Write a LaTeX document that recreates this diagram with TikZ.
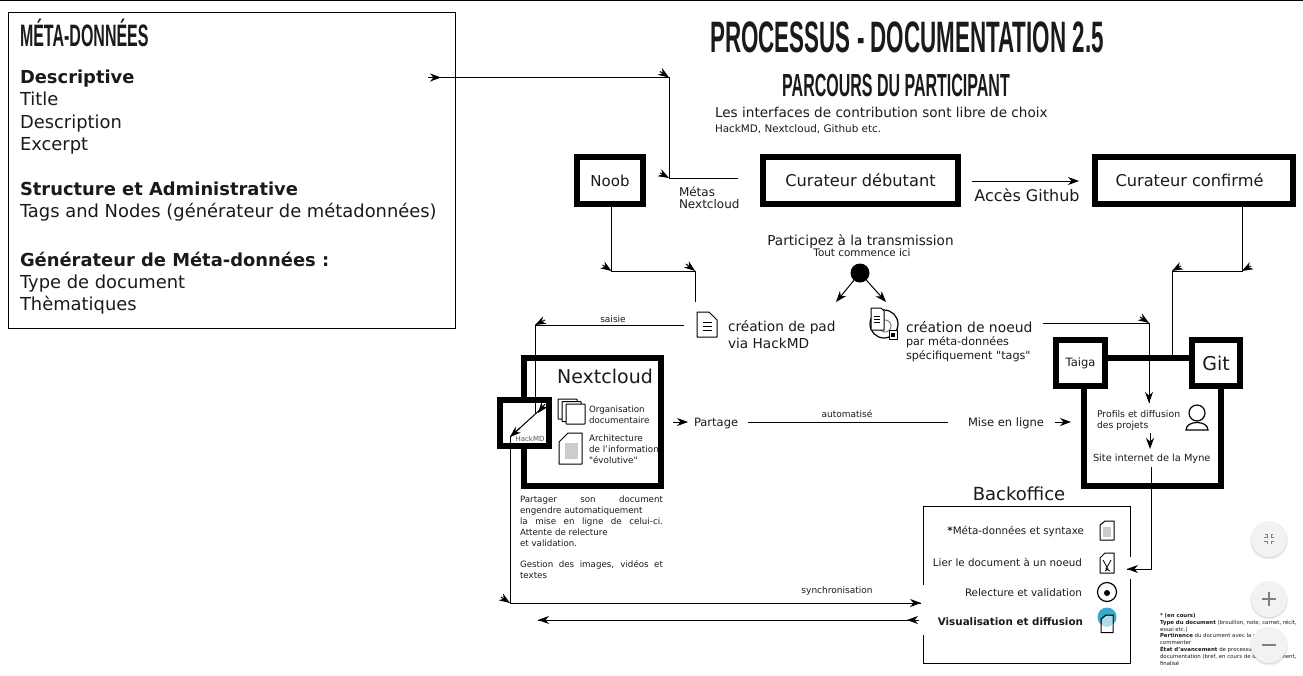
\documentclass[tikz,border=0pt]{standalone}
\usepackage{fontspec}
\setmainfont{DejaVu Sans}
\newfontfamily\titlefont{Liberation Sans}
\newfontfamily\plainquote{DejaVu Sans}
\usetikzlibrary{arrows.meta,calc}
\definecolor{ink}{HTML}{1A1A1A}
\definecolor{btn}{HTML}{F2F2F2}
\definecolor{teal}{HTML}{3AA9C9}
\newcommand{\cond}[2][0.62]{\scalebox{#1}[1]{\titlefont\bfseries #2}}
\tikzset{
  x=1pt,y=-1pt,
  every node/.style={text=ink,inner sep=0pt,outer sep=0pt},
  tip/.style={-{Stealth[length=11pt,width=8pt,inset=3.5pt]}},
  conn/.style={draw=black,line width=1pt},
  thickbox/.style={draw=black,line width=6pt,fill=white,minimum width=0pt},
  fs/.style={font=\fontsize{#1}{#1}\selectfont},
  lab/.style={anchor=base west,font=\fontsize{#1}{#1}\selectfont},
  labc/.style={anchor=base,font=\fontsize{#1}{#1}\selectfont},
  labe/.style={anchor=base east,font=\fontsize{#1}{#1}\selectfont},
  icon/.style={draw=black,line width=1pt,fill=white,line join=round},
}
\begin{document}
\begin{tikzpicture}
\useasboundingbox (0,0) rectangle (1303,675);
\draw[black,line width=1pt] (0,0.5) -- (1303,0.5);

% metadata box
\node[draw=black,line width=1pt,minimum width=447pt,minimum height=316pt,anchor=north west] (meta) at (8,12) {};
\node[anchor=base west,font=\fontsize{31}{31}\selectfont] (metatitle) at (20,46) {\cond[0.516]{MÉTA-DONNÉES}};
\node[lab=17.9] (m1) at (20,83) {\bfseries Descriptive};
\node[lab=17.9] (m2) at (20,105) {Title};
\node[lab=17.9] (m3) at (20,128) {Description};
\node[lab=17.9] (m4) at (20,150) {Excerpt};
\node[lab=17.9] (m5) at (20,195) {\bfseries Structure et Administrative};
\node[lab=17.9] (m6) at (20,217) {Tags and Nodes (générateur de métadonnées)};
\node[lab=17.9] (m7) at (20,266) {\bfseries Générateur de Méta-données :};
\node[lab=17.9] (m8) at (20,288) {Type de document};
\node[lab=17.9] (m9) at (20,310) {Thèmatiques};

% titles
\node[labc=44] (title) at (907,52) {\cond[0.509]{PROCESSUS - DOCUMENTATION 2.5}};
\node[labc=32] (sub) at (896,96) {\cond[0.5]{PARCOURS DU PARTICIPANT}};
\node[lab=13.6] (int1) at (715,117) {Les interfaces de contribution sont libre de choix};
\node[lab=10.4] (int2) at (715,132) {HackMD, Nextcloud, Github etc.};

% top boxes
\node[thickbox,minimum width=66pt,minimum height=47pt,fs=15,anchor=north west] (noob) at (577,157) {Noob};
\node[thickbox,minimum width=195pt,minimum height=47pt,fs=16.2,anchor=north west] (deb) at (763,157) {Curateur débutant};
\node[thickbox,minimum width=198pt,minimum height=47pt,fs=16.2,anchor=north west] (conf) at (1095,157) {\hspace{-9pt}Curateur confirmé};
\node[lab=12] (metas1) at (679,196) {Métas};
\node[lab=12] (metas2) at (679,208) {Nextcloud};
\node[labc=16] (github) at (1027,201) {Accès Github};

% centre
\node[labc=13.6] (part) at (860.5,245) {Participez à la transmission};
\node[labc=10.4] (tout) at (862,256) {Tout commence ici};
\node[circle,fill=black,minimum size=19pt] (dot) at (860,273) {};
\coordinate (d1) at (836,302);
\coordinate (d2) at (886,302);
\draw[conn,tip] (dot) -- (d1);
\draw[conn,tip] (dot) -- (d2);

% pad icon
\draw[icon] (697,312) -- (709,312) -- (717,320) -- (717,337) -- (697,337) -- cycle;
\draw[black,line width=.8pt] (703,322) -- (712,322) (703,326) -- (712,326) (703,330) -- (712,330);
\node[lab=13.7] (pad1) at (728,331) {création de pad};
\node[lab=13.7] (pad2) at (728,348) {via HackMD};

% node icon
\draw[black,line width=1.2pt,fill=white] (884,324) circle (14pt);
\draw[gray,line width=1pt] (885,326) circle (6pt);
\draw[icon] (871,308) -- (881,308) -- (884,311) -- (884,330) -- (871,330) -- cycle;
\draw[black,line width=.7pt] (874,316) -- (880,316) (874,319) -- (880,319) (874,322) -- (880,322);
\draw[icon] (889,330) -- (897,330) -- (897,339) -- (889,339) -- cycle;
\fill[black] (891,333) rectangle (895,337);
\node[lab=13.9] (nd1) at (906,332) {création de noeud};
\node[lab=11.2] (nd2) at (906,345) {par méta-données};
\node[lab=11.2] (nd3) at (906,359) {spécifiquement {\plainquote "tags"}};

% Nextcloud
\node[thickbox,minimum width=137pt,minimum height=128pt,anchor=north west] (nc) at (524,358) {};
\node[labc=19] (nct) at (605,383) {Nextcloud};
\foreach \dx/\dy in {0/0,4/2.5,8/5}{
  \draw[icon,rounded corners=.5pt] ($(558,399)+(\dx,\dy)$) rectangle ++(19,20);
}
\node[lab=8.7] (o1) at (589,412) {Organisation};
\node[lab=8.7] (o2) at (589,423) {documentaire};
\draw[icon] (568,433) -- (582,433) -- (582,464) -- (559,464) -- (559,442) -- cycle;
\fill[gray!40] (565,443) rectangle (578,459);
\node[lab=8.8] (a1) at (589,441) {Architecture};
\node[lab=8.8] (a2) at (589,452) {de l'information};
\node[lab=8.8] (a3) at (589,463) {{\plainquote "évolutive"}};
% HackMD
\node[thickbox,minimum width=49pt,minimum height=46pt,anchor=north west] (hk) at (500,400) {};
\node[labc=7,text=gray!70!black] (hkt) at (530,441) {HackMD};

\node[lab=8.7] (p1) at (520,502) {\makebox[143pt][s]{Partager son document}};
\node[lab=8.7] (p2) at (520,513) {engendre automatiquement};
\node[lab=8.7] (p3) at (520,524) {\makebox[143pt][s]{la mise en ligne de celui-ci.}};
\node[lab=8.7] (p4) at (520,535) {Attente de relecture};
\node[lab=8.7] (p5) at (520,546) {et validation.};
\node[lab=8.7] (p6) at (520,567) {\makebox[143pt][s]{Gestion des images, vidéos et}};
\node[lab=8.7] (p7) at (520,578) {textes};

% Partage line
\node[lab=11.5] (pg) at (694,426) {Partage};
\node[lab=11.5] (ml) at (968,426) {Mise en ligne};
\node[labc=9] (auto) at (847,417) {automatisé};
\node[labc=9] (saisie) at (613,322) {saisie};

% Site box
\draw[black,line width=6pt] (1084,385) -- (1084,486) -- (1221,486) -- (1221,385);
\draw[black,line width=6pt] (1105,358) -- (1192,358);
\node[thickbox,minimum width=49pt,minimum height=46pt,fs=11.5,anchor=north west] (taiga) at (1056,340) {Taiga};
\node[thickbox,minimum width=48pt,minimum height=46pt,fs=19,anchor=north west] (git) at (1192,340) {Git};
\node[lab=9.3] (pr1) at (1097,417) {Profils et diffusion};
\node[lab=9.3] (pr2) at (1097,428) {des projets};
\node[lab=9.8] (site) at (1093,461) {Site internet de la Myne};
\draw[black,line width=1.2pt] (1197,413) circle (8pt);
\draw[black,line width=1.2pt] (1186,430) .. controls (1186,420) and (1208,420) .. (1208,430) -- cycle;

% Backoffice
\node[labc=18] (bot) at (1019,500) {Backoffice};
\coordinate (b1) at (923,585);
\coordinate (b2) at (923,506);
\coordinate (b3) at (1130,506);
\coordinate (b4) at (1130,557);
\coordinate (b5) at (1130,579);
\coordinate (b6) at (1130,663);
\coordinate (b7) at (923,663);
\coordinate (b8) at (923,635);
\draw[black,line width=1pt] (b1) -- (b2) -- (b3) -- (b4);
\draw[black,line width=1pt] (b5) -- (b6) -- (b7) -- (b8);
\node[labe=10.35] (bk1) at (1084,534) {\textbf{*}Méta-données et syntaxe};
\node[labe=10.35] (bk2) at (1082,566) {Lier le document à un noeud};
\node[labe=10.35] (bk3) at (1082,596) {Relecture et validation};
\node[labe=10.35,font=\fontsize{10.35}{10.35}\selectfont\bfseries] (bk4) at (1083,625) {Visualisation et diffusion};
\draw[icon] (1105,521) -- (1114,521) -- (1114,540) -- (1100,540) -- (1100,525) -- cycle;
\fill[gray!40] (1103,527) rectangle (1111,537);
\draw[icon] (1105,553) -- (1114,553) -- (1114,573) -- (1100,573) -- (1100,558) -- cycle;
\draw[black,line width=.8pt] (1103,560) -- (1108,569) -- (1105,571) (1111,560) -- (1106,569) -- (1110,571);
\draw[black,line width=1.2pt] (1107,592) circle (9.5pt);
\fill[black] (1107,593) circle (3pt);
\fill[teal] (1107,617) circle (9.5pt);
\draw[black,line width=1pt] (1101,632.5) -- (1101,619) -- (1106,615) -- (1113,615) -- (1113,632.5) -- cycle;
\fill[white,opacity=.6] (1102,619.5) -- (1106.5,616) -- (1112.5,616) -- (1112.5,626) -- (1102,626) -- cycle;

% Connectors
\coordinate (c1) at (428,77.5);
\coordinate (c2) at (669,77.5);
\coordinate (c3) at (669,178);
\coordinate (c4) at (738,178);
\draw[conn] (c1) -- (c2) -- (c3) -- (c4);
\draw[conn,tip] (c1) -- ++(13,0);
\draw[conn,tip] ($(c2)+(-9,-6)$) -- (c2);
\draw[conn,tip] ($(c3)+(-9,-5)$) -- (c3);

\coordinate (c5) at (611.5,271);
\coordinate (c6) at (695,271);
\coordinate (c7) at (695,302);
\draw[conn] (noob.south -| c5) -- (c5) -- (c6) -- (c7);
\draw[conn,tip] ($(c5)+(-9,-6)$) -- (c5);
\draw[conn,tip] ($(c6)+(-9,-7)$) -- (c6);

\coordinate (c8) at (972,181);
\coordinate (c9) at (1079,181);
\draw[conn,tip] (c8) -- (c9);

\coordinate (c10) at (1242,271);
\coordinate (c11) at (1172,271);
\coordinate (c12) at (1172,355);
\draw[conn] (conf.south -| c10) -- (c10) -- (c11) -- (c12);
\draw[conn,tip] ($(c10)+(9,-5)$) -- (c10);
\draw[conn,tip] ($(c11)+(9,-5)$) -- (c11);

\coordinate (c13) at (684,325);
\coordinate (c14) at (535,325);
\coordinate (c15) at (535,413);
\coordinate (c16) at (538,413);
\draw[conn] (c13) -- (c14) -- (c15);
\draw[conn,tip] ($(c14)+(10,-5)$) -- (c14);
\coordinate (c17) at (510,437);
\draw[conn] (543,407) -- (c17);
\draw[conn,tip] ($(c16)+(7,-9)$) -- (c16);
\draw[conn,tip] ($(c17)+(10,-9)$) -- (c17);

\coordinate (c18) at (510,603);
\coordinate (c19) at (921,603);
\draw[conn] (c17) -- (c18) -- (c19);
\draw[conn,tip] ($(c18)+(-9,-6)$) -- (c18);
\draw[conn,tip] ($(c19)+(-12,0)$) -- (c19);
\node[labc=9] (sync) at (837,593) {synchronisation};

\coordinate (c20) at (538,620);
\coordinate (c21) at (919,620);
\draw[conn] (c20) -- (c21);
\draw[conn,tip] ($(c20)+(12,0)$) -- (c20);
\draw[conn,tip] (c21) -- ++(-12,0);

\coordinate (c22) at (673,422);
\coordinate (c23) at (688,422);
\draw[conn,tip] (c22) -- (c23);
\coordinate (c24) at (748,422);
\coordinate (c25) at (948,422);
\draw[conn] (c24) -- (c25);
\coordinate (c26) at (1055,422);
\coordinate (c27) at (1071,422);
\draw[conn,tip] (c26) -- (c27);

\coordinate (c28) at (1043,323);
\coordinate (c29) at (1149,323);
\coordinate (c30) at (1149,403);
\draw[conn] (c28) -- (c29) -- (c30);
\draw[conn,tip] ($(c29)+(-9,-6)$) -- (c29);
\draw[conn,tip] ($(c30)+(0,-12)$) -- (c30);
\coordinate (c31) at (1150,433);
\coordinate (c32) at (1150,449);
\draw[conn,tip] (c31) -- (c32);

\coordinate (c33) at (1151,467);
\coordinate (c34) at (1151,569);
\coordinate (c35) at (1127,569);
\draw[conn] (c33) -- (c34) -- (c35);
\draw[conn,tip] ($(c35)+(12,0)$) -- (c35);

% footnote
\node[lab=5.4] (f1) at (1160,617) {\bfseries * (en cours)};
\node[lab=5.4] (f2) at (1160,624) {\textbf{Type du document} (brouillon, note, carnet, récit,};
\node[lab=5.4] (f3) at (1160,631) {essai etc.)};
\node[lab=5.4] (f4) at (1160,637.5) {\textbf{Pertinence} du document avec la volonté de};
\node[lab=5.4] (f5) at (1160,644.5) {commenter};
\node[lab=5.4] (f6) at (1160,651) {\textbf{État d'avancement} de processus de};
\node[lab=5.4] (f7) at (1160,658) {documentation (bref, en cours de développement,};
\node[lab=5.4] (f8) at (1160,665) {finalisé};

% floating buttons
\foreach \yy in {539,599,645}{
  \fill[black,opacity=.06] (1269,\yy+1.5) circle (19pt);
  \fill[black,opacity=.08] (1269,\yy+1) circle (18.2pt);
  \fill[btn] (1269,\yy) circle (18pt);
}
\draw[gray,line width=1pt] (1265,534) -- (1267,534) -- (1267,537) -- (1264,537) (1273,534) -- (1271,534) -- (1271,537) -- (1274,537)
  (1264,541) -- (1267,541) -- (1267,544) (1274,541) -- (1271,541) -- (1271,544);
\draw[gray,line width=1.2pt] (1262,599) -- (1276,599) (1269,592) -- (1269,606);
\draw[gray,line width=1.2pt] (1262,645) -- (1276,645);
\end{tikzpicture}
\end{document}
